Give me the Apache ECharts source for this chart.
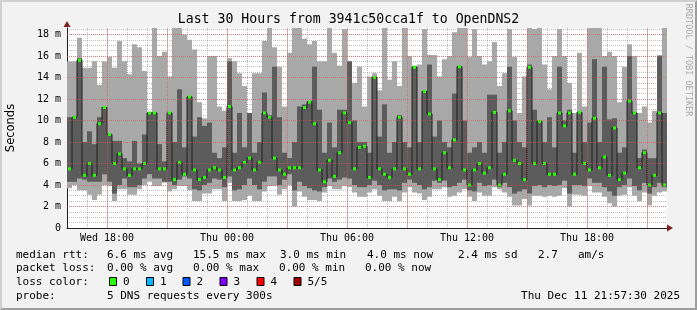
<!DOCTYPE html>
<html><head><meta charset="utf-8">
<script src="https://cdn.jsdelivr.net/npm/echarts@6/dist/echarts.min.js"></script>
<style>html,body{margin:0;padding:0;background:#f2f2f2}#c{width:697px;height:310px}</style>
</head><body><div id="c"></div>
<script>
// ---- data (15-minute slots from Wed 16:00, values in ms) ----
const slotHours = 0.25;
const timeLabels = ['Wed 18:00','Thu 00:00','Thu 06:00','Thu 12:00','Thu 18:00'];
const labelHours = [2, 8, 14, 20, 26];
const majorXHours = [2, 5, 8, 11, 14, 17, 20, 23, 26, 29];
const majorY = [2, 4, 6, 8, 10, 12, 14, 16, 18];

const hi = [15.5,15.5,17.7,14.9,14.9,15.5,13.3,15.5,15.9,14.9,
 17.4,15.5,14.3,17.1,16.8,14.6,10.8,18.6,16.0,16.4,
 14.1,18.6,18.6,18.0,17.5,16.6,11.7,10.2,16.0,16.0,
 11.3,10.9,15.8,15.5,14.4,13.2,10.7,14.4,14.4,17.4,
 18.6,16.8,15.0,11.3,16.3,18.6,18.6,17.6,17.1,17.4,
 15.5,15.5,18.6,16.3,15.1,18.5,15.5,13.5,15.0,11.3,
 14.1,14.4,12.8,18.6,13.8,15.5,13.2,18.6,16.0,15.1,
 15.2,18.5,16.1,16.1,14.1,15.7,16.0,18.2,18.6,18.6,
 15.9,18.5,16.0,15.2,15.5,17.3,13.2,14.4,18.5,15.9,
 10.7,14.1,18.6,18.5,18.6,15.2,12.9,16.0,18.5,16.0,
 13.5,10.7,16.3,11.3,18.6,18.6,18.6,16.0,16.4,16.0,
 11.7,15.0,17.1,16.0,10.7,11.3,9.8,10.9,16.1,18.6];
const q3 = [10.3,10.3,15.8,8.0,9.0,7.8,10.3,11.2,8.7,8.1,
 8.1,6.5,6.2,8.1,6.0,8.7,10.7,10.7,7.8,6.2,
 10.7,8.0,12.9,7.5,12.2,8.5,10.3,9.5,9.8,7.0,
 6.5,7.5,15.5,7.0,10.7,7.5,10.7,7.0,8.0,12.6,
 10.5,15.0,10.3,7.0,6.5,8.0,11.3,11.5,11.8,15.0,
 11.0,7.0,9.8,7.5,11.0,11.0,15.5,10.0,8.0,8.0,
 7.0,14.0,8.5,11.5,7.0,8.0,10.5,8.0,7.5,15.0,
 8.0,12.7,15.2,8.5,10.0,8.0,7.5,12.5,15.0,10.0,
 7.0,7.5,8.0,7.0,12.4,12.4,7.0,8.0,15.0,10.0,
 8.0,7.5,15.2,11.0,10.0,8.0,10.3,7.5,15.0,10.0,
 11.0,7.0,10.8,8.0,9.8,15.7,8.0,15.0,10.1,10.2,
 7.0,7.5,16.0,10.7,6.5,7.3,6.5,6.5,16.0,10.7];
const med = [5.5,10.3,15.6,4.9,6.0,4.9,9.7,11.2,8.7,6.0,
 6.9,5.5,4.9,5.5,5.5,6.0,10.7,10.7,5.5,5.5,
 10.7,4.5,6.1,5.0,12.2,5.4,4.5,4.7,5.4,5.6,
 5.4,4.7,11.3,5.4,5.6,6.1,6.5,5.4,6.1,10.7,
 10.3,6.5,5.4,5.0,5.6,5.6,5.6,11.2,11.7,9.7,
 5.4,4.3,6.3,4.8,7.0,10.7,9.8,5.5,7.5,7.6,
 4.7,14.0,5.5,5.0,4.7,5.5,10.3,5.5,5.0,14.95,
 5.5,12.7,10.6,5.5,4.5,7.0,5.6,8.2,15.0,5.4,
 4.0,5.4,6.0,5.1,5.6,10.75,4.0,5.0,10.9,6.3,
 6.0,4.5,14.95,6.0,9.9,6.0,5.0,5.0,10.7,9.5,
 10.7,5.0,10.75,6.0,5.4,10.2,5.6,6.6,4.9,9.3,
 4.5,5.1,11.8,10.7,5.6,7.0,4.0,4.9,10.7,4.0];
const q1 = [4.3,4.3,4.6,4.5,4.3,4.3,4.3,5.0,4.3,3.2,
 4.0,4.6,3.8,3.8,4.0,4.6,5.0,4.6,4.6,4.3,
 4.3,4.0,4.5,4.8,4.6,3.6,3.5,4.0,4.2,4.6,
 4.5,3.8,4.8,3.5,3.6,4.0,4.6,4.0,3.6,4.3,
 4.8,4.8,4.0,4.5,5.0,3.5,4.3,3.9,3.7,3.5,
 3.4,3.8,4.6,4.3,4.5,4.7,4.6,4.0,3.8,3.8,
 4.0,4.4,4.0,3.5,3.6,3.6,3.5,4.2,4.5,4.2,
 4.0,3.6,3.8,4.4,4.2,4.4,3.8,3.9,4.2,4.5,
 3.5,3.4,4.2,3.9,4.0,4.5,3.8,4.2,3.8,3.2,
 3.4,3.6,3.2,3.9,4.0,3.8,4.0,3.9,4.0,4.4,
 3.2,4.0,4.0,3.9,4.6,4.2,4.2,3.8,3.4,3.0,
 3.8,4.0,4.6,3.9,3.5,4.2,3.2,3.8,4.2,3.8];
const lo = [3.7,4.0,3.5,3.5,3.1,2.6,3.1,4.0,3.9,2.5,
 3.6,3.6,3.1,3.1,3.6,4.0,4.3,3.9,3.9,4.2,
 3.4,3.6,3.9,3.9,3.5,2.5,2.5,3.2,3.2,3.6,
 3.6,2.5,4.2,2.5,2.5,2.6,3.0,2.5,2.5,3.4,
 3.9,3.9,3.1,3.6,4.0,2.0,3.4,2.9,2.6,2.6,
 2.5,3.3,3.9,3.6,3.6,3.9,3.8,3.3,2.9,2.9,
 3.3,3.6,3.0,2.5,2.5,2.9,2.5,3.3,3.8,3.3,
 3.2,2.6,2.9,3.6,3.6,3.8,2.9,3.0,3.3,3.6,
 2.9,2.5,3.3,3.0,3.0,3.8,3.6,3.3,2.9,2.1,
 2.1,2.7,2.1,3.0,3.0,2.9,3.0,2.9,3.0,3.7,
 2.0,3.1,3.1,3.0,3.9,3.3,3.3,2.9,2.3,2.0,
 3.0,3.1,3.8,3.0,2.5,3.3,2.1,3.0,3.3,3.4];

const lossColors = ['#26ff00','#00b8ff','#0059ff','#7e00ff','#ff0000','#a10000'];
const lossLabels = ['0','1','2','3','4','5/5'];

// ---- build ----
const smokeData = lo.map((v, i) => [i * slotHours, lo[i], q1[i], q3[i], hi[i]]);
const medData = med.map((v, i) => [(i + 0.5) * slotHours, v]);

const MONO = '"DejaVu Sans Mono", monospace';
const GRID_COL = 'rgba(143,143,143,0.6)';
const MGRID_COL = 'rgba(222,79,79,0.6)';

function renderSmoke(params, api) {
  const x0 = api.value(0), x1 = x0 + slotHours;
  const a = api.coord([x0, api.value(4)]);
  const b = api.coord([x1, api.value(1)]);
  const c = api.coord([x0, api.value(3)]);
  const d = api.coord([x1, api.value(2)]);
  return {type: 'group', children: [
    {type: 'rect', shape: {x: a[0], y: a[1], width: b[0] - a[0], height: b[1] - a[1]}, style: {fill: '#a8a8a8'}},
    {type: 'rect', shape: {x: c[0], y: c[1], width: d[0] - c[0], height: d[1] - c[1]}, style: {fill: '#5c5c5c'}}
  ]};
}

const W = 697, H = 310;
const graphics = [
  {type: 'polygon', shape: {points: [[0,H],[2,H-2],[2,2],[W-2,2],[W,0],[0,0]]}, style: {fill: '#cfcfcf'}, silent: true},
  {type: 'polygon', shape: {points: [[2,H-2],[W-2,H-2],[W-2,2],[W,0],[W,H],[0,H]]}, style: {fill: '#9e9e9e'}, silent: true},
  {type: 'text', x: 348.5, y: 19.5, style: {text: 'Last 30 Hours from 3941c50cca1f to OpenDNS2', font: '13.2px ' + MONO, fill: '#000', textAlign: 'center', textVerticalAlign: 'middle'}},
  {type: 'text', x: 11, y: 128, rotation: Math.PI / 2, style: {text: 'Seconds', font: '11.5px "DejaVu Sans"', fill: '#000', textAlign: 'center', textVerticalAlign: 'middle'}},
  {type: 'text', x: 688, y: 60, rotation: -Math.PI / 2, style: {text: 'RRDTOOL / TOBI OETIKER', font: '8.5px ' + MONO, fill: '#ababab', textAlign: 'center', textVerticalAlign: 'middle'}},
  // arrows
  {type: 'polygon', shape: {points: [[667,224.5],[673,228],[667,231.5]]}, style: {fill: '#801f1f'}, z: 100},
  {type: 'polygon', shape: {points: [[63.5,27],[67,21],[70.5,27]]}, style: {fill: '#801f1f'}, z: 100}
];
function txt(s, x, y, align) {
  graphics.push({type: 'text', x: x, y: y, style: {text: s, font: '11px ' + MONO, fill: '#000', textAlign: align || 'left', textVerticalAlign: 'middle'}});
}
txt('median rtt:', 16, 255); txt('6.6 ms avg', 107, 255); txt('15.5 ms max', 193, 255);
txt('3.0 ms min', 280, 255); txt('4.0 ms now', 367, 255); txt('2.4 ms sd', 458, 255);
txt('2.7', 538, 255); txt('am/s', 578, 255);
txt('packet loss:', 16, 268); txt('0.00 % avg', 107, 268); txt('0.00 % max', 193, 268);
txt('0.00 % min', 279, 268); txt('0.00 % now', 365, 268);
txt('loss color:', 16, 282);
const boxX = [109, 146, 182.5, 219.5, 256.5, 293.5];
lossLabels.forEach((l, i) => {
  graphics.push({type: 'rect', shape: {x: boxX[i] + 0.5, y: 277.5, width: 7, height: 8}, style: {fill: lossColors[i], stroke: '#000', lineWidth: 1}});
  txt(l, boxX[i] + 14, 282);
});
txt('probe:', 16, 296); txt('5 DNS requests every 300s', 107, 296);
txt('Thu Dec 11 21:57:30 2025', 680, 296, 'right');

const markData = majorY.map(v => ({yAxis: v})).concat(majorXHours.map(v => ({xAxis: v})));

const option = {
  animation: false,
  backgroundColor: '#f2f2f2',
  grid: {left: 67, top: 28, width: 600, height: 200, show: true, backgroundColor: '#ffffff', borderWidth: 0},
  xAxis: {
    type: 'value', min: 0, max: 30, interval: 1,
    axisLine: {show: true, lineStyle: {color: '#1f1f1f', width: 1}},
    axisTick: {show: false},
    axisLabel: {
      formatter: v => { const k = labelHours.indexOf(v); return k >= 0 ? timeLabels[k] : ''; },
      fontFamily: MONO, fontSize: 10, color: '#000', margin: 5
    },
    splitLine: {show: true, showMinLine: false, showMaxLine: false, lineStyle: {color: GRID_COL, type: [1, 1], width: 1}}
  },
  yAxis: {
    type: 'value', min: 0, max: 18.6, interval: 0.5,
    axisLine: {show: true, lineStyle: {color: '#1f1f1f', width: 1}},
    axisTick: {show: false},
    axisLabel: {
      formatter: v => (Math.abs(v % 2) < 1e-9 ? (v === 0 ? '0' : v + ' m') : ''),
      fontFamily: MONO, fontSize: 10, color: '#000', margin: 6, showMaxLabel: false
    },
    splitLine: {show: true, showMinLine: false, showMaxLine: false, lineStyle: {color: GRID_COL, type: [1, 1], width: 1}}
  },
  series: [
    {type: 'line', data: [], z: 1, silent: true,
     markLine: {silent: true, symbol: ['none', 'none'], label: {show: false}, animation: false,
       lineStyle: {color: MGRID_COL, type: [1, 1], width: 1}, emphasis: {disabled: true}, data: markData}},
    {type: 'custom', renderItem: renderSmoke, data: smokeData, encode: {x: 0, y: [1, 2, 3, 4]}, z: 2, silent: true},
    {type: 'line', data: medData, step: 'middle', z: 3, silent: true,
     lineStyle: {color: '#202020', width: 1},
     symbol: 'rect', symbolSize: [3, 3], showSymbol: true, showAllSymbol: true,
     itemStyle: {color: lossColors[0], borderWidth: 0}}
  ],
  graphic: graphics
};
echarts.init(document.getElementById('c'), null, {renderer: 'canvas'}).setOption(option);
</script></body></html>
